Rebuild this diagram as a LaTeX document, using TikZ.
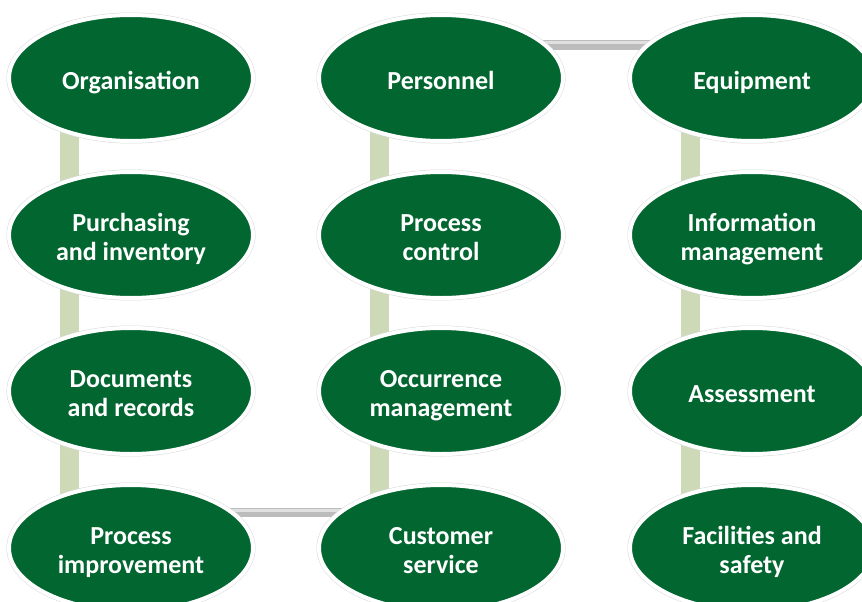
\documentclass[tikz,border=0pt]{standalone}
\usepackage{fontspec}
\setmainfont{Carlito}
\usetikzlibrary{shapes.geometric}
\definecolor{nodegreen}{RGB}{2,102,48}
\definecolor{barolive}{RGB}{205,217,183}
\definecolor{bargray}{RGB}{188,188,188}
\pgfdeclarelayer{bg}
\pgfsetlayers{bg,main}
\tikzset{
  oval/.style={ellipse, minimum width=244pt, minimum height=126pt, inner sep=0pt,
    fill=nodegreen, draw=white, line width=4pt,
    preaction={draw=black!15, line width=5pt}},
  lbl/.style={text=white, align=center, inner sep=0pt, yshift=-5.5pt,
    font=\fontsize{26pt}{29pt}\selectfont\bfseries},
  vbar/.style={draw=barolive, line width=18.5pt},
  hbar/.style={draw=bargray, line width=9.5pt},
  hbarhi/.style={draw=black!12, line width=3pt},
}
\begin{document}
\begin{tikzpicture}[x=1pt,y=1pt]
\clip (0,0) rectangle (862,-602);
% column 1
\node[oval] (org) at (131,-78) {};
\node[oval] (pur) at (131,-235) {};
\node[oval] (doc) at (131,-391) {};
\node[oval] (imp) at (131,-548) {};
% column 2
\node[oval] (per) at (441,-78) {};
\node[oval] (con) at (441,-235) {};
\node[oval] (occ) at (441,-391) {};
\node[oval] (cus) at (441,-548) {};
% column 3
\node[oval] (equ) at (752,-78) {};
\node[oval] (inf) at (752,-235) {};
\node[oval] (ass) at (752,-391) {};
\node[oval] (fac) at (752,-548) {};
% labels
\node[lbl] (torg) at (org.center) {\strut Organisation};
\node[lbl] (tpur) at (pur.center) {\strut Purchasing\\\strut and inventory};
\node[lbl] (tdoc) at (doc.center) {\strut Documents\\\strut and records};
\node[lbl] (timp) at (imp.center) {\strut Process\\\strut improvement};
\node[lbl] (tper) at (per.center) {\strut Personnel};
\node[lbl] (tcon) at (con.center) {\strut Process\\\strut control};
\node[lbl] (tocc) at (occ.center) {\strut Occurrence\\\strut management};
\node[lbl] (tcus) at (cus.center) {\strut Customer\\\strut service};
\node[lbl] (tequ) at (equ.center) {\strut Equipment};
\node[lbl] (tinf) at (inf.center) {\strut Information\\\strut management};
\node[lbl] (tass) at (ass.center) {\strut Assessment};
\node[lbl] (tfac) at (fac.center) {\strut Facilities and\\\strut safety};
\begin{pgfonlayer}{bg}
  \fill[white] (0,0) rectangle (862,-602);
  \foreach \a/\b in {org/pur,pur/doc,doc/imp,per/con,con/occ,occ/cus,equ/inf,inf/ass,ass/fac}
    \draw[vbar] ([xshift=-61.5pt]\a.center) -- ([xshift=-61.5pt]\b.center);
  \draw[hbar] ([yshift=33pt]per.center) -- ([yshift=33pt]equ.center);
  \draw[hbarhi] ([yshift=35.5pt]per.center) -- ([yshift=35.5pt]equ.center);
  \draw[hbar] ([yshift=35.5pt]imp.center) -- ([yshift=35.5pt]cus.center);
  \draw[hbarhi] ([yshift=38pt]imp.center) -- ([yshift=38pt]cus.center);
\end{pgfonlayer}
\end{tikzpicture}
\end{document}
